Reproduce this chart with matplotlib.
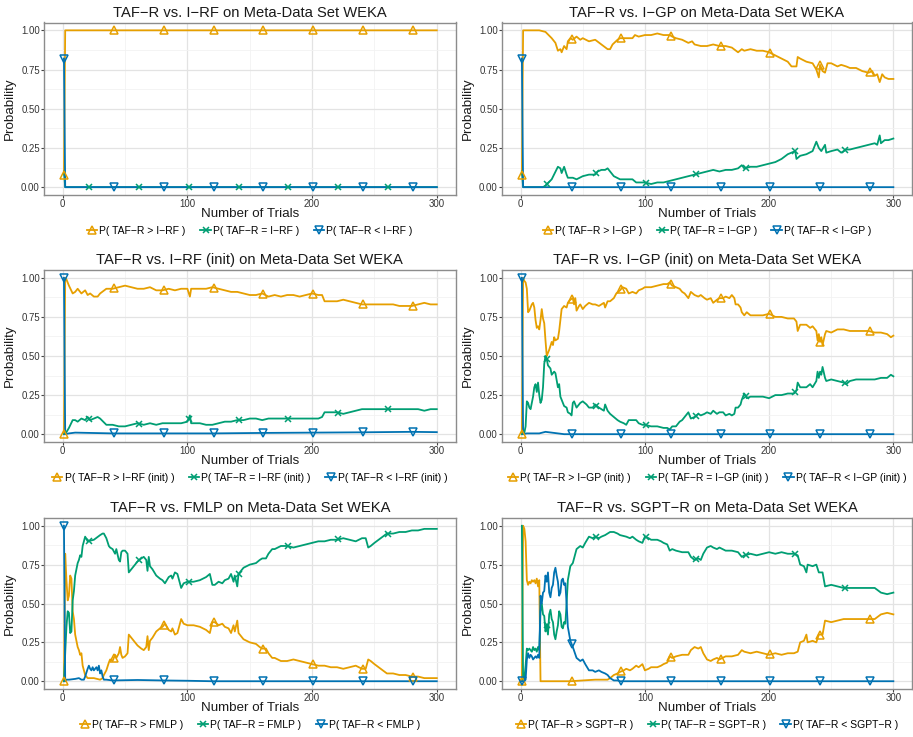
import numpy as np
import matplotlib
matplotlib.use("Agg")
import matplotlib.pyplot as plt
from matplotlib.lines import Line2D
from matplotlib.ticker import MultipleLocator

plt.rcParams['font.family'] = ['Liberation Sans', 'DejaVu Sans']

# ---------------- data ----------------
titles = ["TAF\u2212R vs. I\u2212RF on Meta-Data Set WEKA",
          "TAF\u2212R vs. I\u2212GP on Meta-Data Set WEKA",
          "TAF\u2212R vs. I\u2212RF (init) on Meta-Data Set WEKA",
          "TAF\u2212R vs. I\u2212GP (init) on Meta-Data Set WEKA",
          "TAF\u2212R vs. FMLP on Meta-Data Set WEKA",
          "TAF\u2212R vs. SGPT\u2212R on Meta-Data Set WEKA"]
competitors = ["I\u2212RF", "I\u2212GP", "I\u2212RF (init)", "I\u2212GP (init)", "FMLP", "SGPT\u2212R"]

# Panel 1: I-RF
p1_gt_x = [1, 2, 300]
p1_gt_y = [0.08, 1.0, 1.0]
p1_eq_x = [1, 2, 300]
p1_eq_y = [0.10, 0.0, 0.0]
p1_lt_x = [1, 2, 300]
p1_lt_y = [0.82, 0.0, 0.0]

# Panel 2: I-GP
p2_gt_x = [1, 2, 15, 20, 25, 28, 30, 32, 33, 35, 37, 38, 40, 42, 45, 48, 50, 55, 60, 65, 70, 72, 74, 78, 80,
           85, 90, 92, 95, 100, 105, 110, 115, 120, 122, 125, 130, 135, 138, 140, 145, 150, 155, 160, 165,
           170, 175, 178, 180, 185, 190, 195, 200, 205, 210, 215, 218, 222, 223, 225, 230, 235, 238, 240,
           241, 243, 245, 247, 250, 255, 258, 262, 265, 270, 275, 280, 283, 285, 287, 289, 291, 293, 296, 300]
p2_gt_y = [0.08, 1.0, 1.0, 0.99, 0.95, 0.92, 0.87, 0.88, 0.86, 0.90, 0.88, 0.93, 0.95, 0.94, 0.96, 0.94,
           0.95, 0.93, 0.94, 0.91, 0.88, 0.88, 0.91, 0.94, 0.95, 0.95, 0.95, 0.97, 0.96, 0.97, 0.97, 0.98,
           0.97, 0.97, 0.96, 0.95, 0.94, 0.92, 0.93, 0.91, 0.90, 0.90, 0.91, 0.90, 0.90, 0.89, 0.86, 0.88,
           0.87, 0.88, 0.87, 0.87, 0.86, 0.84, 0.82, 0.80, 0.77, 0.77, 0.83, 0.82, 0.80, 0.79, 0.75, 0.70,
           0.78, 0.74, 0.73, 0.79, 0.79, 0.77, 0.78, 0.77, 0.76, 0.76, 0.74, 0.73, 0.74, 0.71, 0.72, 0.67,
           0.72, 0.70, 0.69, 0.69]
p2_eq_x = [1, 2, 18, 20, 25, 30, 32, 33, 35, 37, 38, 42, 45, 50, 55, 60, 62, 65, 68, 70, 72, 75, 80, 85, 90,
           93, 100, 105, 110, 115, 120, 125, 130, 135, 140, 145, 150, 155, 160, 165, 170, 175, 178, 180,
           185, 190, 195, 200, 205, 210, 215, 218, 221, 222, 225, 230, 235, 238, 240, 242, 245, 246, 250,
           255, 258, 262, 265, 270, 275, 280, 285, 287, 289, 290, 293, 296, 300]
p2_eq_y = [0.10, 0.0, 0.0, 0.01, 0.05, 0.13, 0.12, 0.09, 0.13, 0.08, 0.06, 0.06, 0.05, 0.07, 0.08, 0.08,
           0.10, 0.11, 0.11, 0.12, 0.10, 0.07, 0.05, 0.05, 0.05, 0.03, 0.03, 0.02, 0.03, 0.03, 0.04, 0.05,
           0.06, 0.07, 0.08, 0.09, 0.10, 0.11, 0.10, 0.11, 0.11, 0.12, 0.14, 0.12, 0.13, 0.13, 0.14, 0.15,
           0.16, 0.18, 0.21, 0.22, 0.23, 0.18, 0.20, 0.21, 0.23, 0.29, 0.25, 0.23, 0.27, 0.22, 0.23, 0.24,
           0.22, 0.24, 0.24, 0.25, 0.26, 0.27, 0.28, 0.27, 0.33, 0.28, 0.30, 0.30, 0.31]
p2_lt_x = [1, 2, 300]
p2_lt_y = [0.82, 0.0, 0.0]

# Panel 3: I-RF (init)
p3_gt_x = [1, 2, 3, 5, 8, 10, 12, 15, 18, 20, 22, 25, 28, 30, 35, 40, 45, 50, 55, 60, 65, 70, 75, 80, 85, 90,
           95, 100, 102, 103, 105, 110, 115, 120, 125, 130, 135, 140, 145, 150, 155, 160, 165, 170, 175,
           180, 185, 190, 195, 200, 205, 208, 210, 215, 220, 225, 230, 235, 240, 245, 250, 255, 260, 265,
           270, 275, 280, 285, 290, 295, 300]
p3_gt_y = [0.0, 1.0, 0.99, 0.95, 0.90, 0.91, 0.93, 0.90, 0.92, 0.89, 0.90, 0.88, 0.88, 0.90, 0.93, 0.93,
           0.94, 0.95, 0.94, 0.93, 0.93, 0.94, 0.92, 0.92, 0.93, 0.92, 0.93, 0.93, 0.88, 0.93, 0.93, 0.93,
           0.93, 0.94, 0.93, 0.92, 0.91, 0.91, 0.90, 0.89, 0.89, 0.90, 0.88, 0.89, 0.88, 0.89, 0.89, 0.88,
           0.89, 0.90, 0.89, 0.89, 0.85, 0.85, 0.85, 0.86, 0.85, 0.84, 0.83, 0.83, 0.83, 0.83, 0.83, 0.83,
           0.82, 0.82, 0.82, 0.83, 0.84, 0.83, 0.83]
p3_eq_x = [1, 2, 5, 8, 10, 12, 15, 18, 20, 22, 25, 28, 30, 35, 40, 45, 50, 55, 60, 65, 70, 75, 80, 85, 90, 95,
           100, 102, 103, 105, 110, 115, 120, 125, 130, 135, 140, 145, 150, 155, 160, 165, 170, 175, 180,
           185, 190, 195, 200, 205, 208, 210, 215, 220, 225, 230, 235, 240, 245, 250, 255, 260, 265, 270,
           275, 280, 285, 290, 295, 300]
p3_eq_y = [0.0, 0.0, 0.04, 0.09, 0.09, 0.08, 0.10, 0.09, 0.11, 0.09, 0.10, 0.11, 0.10, 0.06, 0.06, 0.05,
           0.05, 0.06, 0.07, 0.06, 0.07, 0.06, 0.07, 0.07, 0.07, 0.07, 0.08, 0.12, 0.07, 0.07, 0.07, 0.06,
           0.06, 0.07, 0.08, 0.08, 0.09, 0.09, 0.10, 0.10, 0.09, 0.10, 0.10, 0.10, 0.10, 0.10, 0.10, 0.10,
           0.10, 0.10, 0.11, 0.14, 0.14, 0.14, 0.13, 0.14, 0.15, 0.16, 0.16, 0.16, 0.16, 0.16, 0.16, 0.16,
           0.16, 0.16, 0.16, 0.15, 0.16, 0.16]
p3_lt_x = [1, 2, 5, 10, 40, 80, 120, 160, 200, 240, 280, 300]
p3_lt_y = [1.0, 0.0, 0.005, 0.01, 0.005, 0.005, 0.005, 0.008, 0.01, 0.012, 0.015, 0.013]

# Panel 4: I-GP (init)
p4_gt_x = [1, 2, 3, 4, 5, 6, 7, 9, 10, 11, 12, 13, 14, 15, 16, 17, 18, 19, 20, 21, 22, 23, 25, 26, 27, 28,
           30, 31, 33, 35, 37, 38, 40, 42, 43, 44, 45, 47, 48, 50, 52, 55, 58, 60, 63, 65, 67, 68, 70, 72,
           75, 77, 80, 82, 85, 87, 90, 93, 95, 98, 100, 105, 110, 115, 118, 120, 122, 125, 128, 130, 132,
           135, 137, 140, 143, 145, 148, 150, 153, 155, 158, 160, 163, 165, 168, 170, 172, 173, 175, 177,
           178, 180, 182, 185, 190, 195, 200, 205, 210, 215, 220, 222, 223, 225, 230, 233, 235, 238, 239,
           240, 241, 242, 243, 245, 246, 250, 255, 260, 265, 270, 275, 280, 285, 290, 295, 298, 300]
p4_gt_y = [0.0, 1.0, 0.98, 0.97, 0.93, 0.78, 0.79, 0.83, 0.84, 0.81, 0.73, 0.68, 0.69, 0.67, 0.73, 0.80,
           0.74, 0.71, 0.60, 0.50, 0.52, 0.54, 0.59, 0.57, 0.62, 0.60, 0.61, 0.66, 0.80, 0.82, 0.81, 0.84,
           0.86, 0.87, 0.83, 0.87, 0.79, 0.82, 0.83, 0.80, 0.82, 0.84, 0.83, 0.83, 0.82, 0.83, 0.84, 0.81,
           0.85, 0.85, 0.87, 0.90, 0.92, 0.94, 0.93, 0.90, 0.91, 0.90, 0.92, 0.93, 0.94, 0.94, 0.95, 0.96,
           0.96, 0.97, 0.95, 0.94, 0.93, 0.91, 0.90, 0.87, 0.91, 0.89, 0.88, 0.89, 0.87, 0.86, 0.87, 0.84,
           0.86, 0.87, 0.87, 0.88, 0.87, 0.89, 0.87, 0.83, 0.83, 0.81, 0.78, 0.76, 0.78, 0.76, 0.76, 0.76,
           0.77, 0.75, 0.75, 0.74, 0.74, 0.72, 0.66, 0.70, 0.70, 0.68, 0.69, 0.66, 0.60, 0.64, 0.59, 0.62,
           0.57, 0.64, 0.66, 0.65, 0.67, 0.67, 0.66, 0.66, 0.66, 0.66, 0.65, 0.65, 0.64, 0.62, 0.63]
p4_eq_x = [1, 2, 3, 4, 5, 6, 7, 8, 9, 10, 11, 12, 13, 14, 15, 16, 17, 18, 19, 20, 21, 22, 23, 24, 25, 27, 28,
           30, 31, 32, 33, 35, 37, 38, 40, 41, 42, 43, 45, 47, 48, 50, 53, 55, 58, 60, 63, 65, 67, 68, 70,
           72, 75, 78, 80, 83, 85, 87, 90, 93, 95, 98, 100, 105, 110, 115, 118, 120, 122, 125, 128, 130, 133,
           135, 137, 140, 143, 145, 148, 150, 153, 155, 158, 160, 163, 165, 168, 170, 172, 173, 175, 177,
           178, 180, 182, 185, 190, 195, 200, 205, 210, 215, 220, 222, 223, 225, 230, 233, 235, 238, 239,
           240, 241, 242, 243, 245, 246, 250, 255, 260, 262, 265, 270, 275, 280, 285, 290, 295, 298, 300]
p4_eq_y = [0.0, 0.0, 0.01, 0.05, 0.21, 0.20, 0.17, 0.16, 0.20, 0.24, 0.30, 0.32, 0.27, 0.33, 0.25, 0.20,
           0.22, 0.30, 0.45, 0.50, 0.48, 0.44, 0.43, 0.42, 0.38, 0.40, 0.39, 0.30, 0.32, 0.24, 0.22, 0.18,
           0.17, 0.14, 0.13, 0.12, 0.20, 0.21, 0.17, 0.19, 0.20, 0.21, 0.19, 0.17, 0.17, 0.19, 0.17, 0.16,
           0.15, 0.19, 0.15, 0.13, 0.11, 0.09, 0.08, 0.07, 0.06, 0.09, 0.09, 0.09, 0.07, 0.06, 0.06, 0.05,
           0.05, 0.04, 0.04, 0.03, 0.05, 0.05, 0.08, 0.09, 0.12, 0.14, 0.10, 0.11, 0.13, 0.12, 0.13, 0.14,
           0.13, 0.15, 0.13, 0.14, 0.14, 0.12, 0.13, 0.12, 0.13, 0.17, 0.17, 0.19, 0.22, 0.26, 0.23, 0.24,
           0.24, 0.24, 0.23, 0.25, 0.25, 0.26, 0.26, 0.28, 0.33, 0.30, 0.30, 0.32, 0.30, 0.34, 0.40, 0.36,
           0.40, 0.38, 0.43, 0.36, 0.34, 0.35, 0.34, 0.33, 0.32, 0.34, 0.35, 0.35, 0.35, 0.35, 0.36, 0.36,
           0.38, 0.37]
p4_lt_x = [1, 2, 5, 15, 20, 25, 35, 300]
p4_lt_y = [1.0, 0.0, 0.005, 0.005, 0.015, 0.01, 0.0, 0.0]

# Panel 5: FMLP
p5_gt_x = [1, 2, 3, 4, 5, 6, 7, 8, 9, 10, 12, 13, 14, 15, 16, 18, 20, 25, 30, 32, 33, 35, 37, 38, 40, 42, 43,
           45, 46, 47, 48, 50, 52, 53, 55, 58, 60, 63, 65, 67, 68, 69, 70, 72, 75, 78, 80, 82, 85, 87, 88,
           90, 92, 95, 97, 100, 105, 110, 115, 118, 120, 122, 125, 128, 130, 133, 135, 137, 138, 140, 141,
           143, 145, 150, 155, 158, 160, 163, 165, 168, 170, 175, 180, 185, 190, 195, 200, 205, 210, 215,
           220, 225, 230, 235, 240, 243, 245, 247, 250, 255, 260, 265, 270, 275, 280, 285, 290, 295, 300]
p5_gt_y = [0.0, 0.82, 0.65, 0.52, 0.55, 0.68, 0.66, 0.45, 0.40, 0.30, 0.22, 0.20, 0.17, 0.18, 0.10, 0.04,
           0.02, 0.02, 0.01, 0.02, 0.04, 0.07, 0.12, 0.14, 0.13, 0.17, 0.15, 0.18, 0.22, 0.17, 0.15, 0.16,
           0.18, 0.30, 0.28, 0.25, 0.23, 0.21, 0.20, 0.22, 0.29, 0.20, 0.26, 0.28, 0.32, 0.34, 0.35, 0.37,
           0.33, 0.32, 0.34, 0.30, 0.31, 0.40, 0.37, 0.36, 0.36, 0.35, 0.33, 0.31, 0.38, 0.38, 0.36, 0.37,
           0.35, 0.34, 0.31, 0.36, 0.32, 0.39, 0.31, 0.29, 0.27, 0.25, 0.24, 0.22, 0.21, 0.21, 0.18, 0.15,
           0.15, 0.13, 0.13, 0.14, 0.13, 0.12, 0.11, 0.10, 0.10, 0.09, 0.09, 0.08, 0.09, 0.10, 0.08, 0.08,
           0.14, 0.13, 0.11, 0.08, 0.05, 0.05, 0.04, 0.04, 0.03, 0.03, 0.02, 0.02, 0.02]
p5_eq_x = p5_gt_x
p5_eq_y = [0.0, 0.18, 0.35, 0.45, 0.44, 0.31, 0.32, 0.52, 0.58, 0.68, 0.76, 0.78, 0.81, 0.80, 0.87, 0.93,
           0.90, 0.91, 0.94, 0.95, 0.95, 0.92, 0.87, 0.86, 0.85, 0.82, 0.85, 0.78, 0.77, 0.83, 0.84, 0.84,
           0.82, 0.70, 0.72, 0.75, 0.77, 0.79, 0.80, 0.78, 0.71, 0.80, 0.74, 0.72, 0.68, 0.66, 0.65, 0.63,
           0.67, 0.68, 0.66, 0.70, 0.69, 0.60, 0.63, 0.64, 0.64, 0.65, 0.67, 0.69, 0.62, 0.62, 0.64, 0.63,
           0.65, 0.66, 0.69, 0.64, 0.68, 0.61, 0.69, 0.71, 0.73, 0.75, 0.76, 0.78, 0.79, 0.79, 0.82, 0.85,
           0.85, 0.87, 0.87, 0.86, 0.87, 0.88, 0.89, 0.90, 0.90, 0.91, 0.91, 0.92, 0.91, 0.90, 0.92, 0.92,
           0.86, 0.87, 0.89, 0.92, 0.95, 0.95, 0.96, 0.96, 0.97, 0.97, 0.98, 0.98, 0.98]
p5_lt_x = [1, 2, 3, 5, 10, 13, 15, 17, 18, 20, 21, 22, 23, 24, 25, 26, 27, 28, 29, 30, 31, 32, 33, 35, 40,
           60, 80, 100, 120, 300]
p5_lt_y = [1.0, 0.0, 0.01, 0.01, 0.015, 0.02, 0.01, 0.01, 0.03, 0.08, 0.10, 0.08, 0.07, 0.09, 0.07, 0.08,
           0.09, 0.07, 0.10, 0.05, 0.07, 0.03, 0.01, 0.01, 0.005, 0.008, 0.005, 0.003, 0.0, 0.0]

# Panel 6: SGPT-R
p6_gt_x = [1, 2, 3, 4, 5, 6, 7, 8, 9, 10, 11, 12, 13, 14, 15, 16, 20, 40, 50, 60, 70, 72, 75, 78, 80, 83, 85,
           88, 90, 93, 95, 98, 100, 103, 105, 110, 113, 115, 118, 120, 122, 125, 130, 135, 137, 140, 143,
           145, 147, 150, 153, 155, 158, 160, 165, 170, 175, 178, 180, 185, 190, 195, 200, 205, 210, 215,
           220, 223, 225, 228, 230, 231, 235, 238, 240, 243, 245, 250, 255, 260, 265, 270, 275, 280, 285,
           290, 295, 300]
p6_gt_y = [0.0, 1.0, 0.98, 0.90, 0.65, 0.62, 0.64, 0.63, 0.65, 0.64, 0.65, 0.63, 0.66, 0.61, 0.65, 0.0,
           0.0, 0.0, 0.005, 0.01, 0.01, 0.02, 0.04, 0.05, 0.06, 0.07, 0.08, 0.07, 0.08, 0.10, 0.09, 0.11,
           0.07, 0.08, 0.09, 0.09, 0.10, 0.11, 0.12, 0.16, 0.15, 0.16, 0.17, 0.17, 0.20, 0.22, 0.21, 0.22,
           0.18, 0.14, 0.13, 0.14, 0.15, 0.14, 0.16, 0.16, 0.17, 0.20, 0.19, 0.18, 0.19, 0.18, 0.17, 0.18,
           0.17, 0.18, 0.18, 0.19, 0.25, 0.26, 0.30, 0.25, 0.26, 0.25, 0.30, 0.30, 0.39, 0.38, 0.39, 0.40,
           0.40, 0.40, 0.40, 0.40, 0.40, 0.43, 0.44, 0.43]
p6_eq_x = [1, 2, 3, 4, 5, 6, 7, 8, 9, 10, 11, 12, 13, 14, 15, 16, 17, 18, 19, 20, 21, 22, 23, 24, 25, 26, 27,
           28, 29, 30, 31, 32, 33, 34, 35, 36, 37, 38, 40, 42, 45, 48, 50, 52, 55, 58, 60, 63, 65, 68, 70,
           72, 75, 78, 80, 85, 88, 90, 93, 95, 98, 100, 103, 105, 110, 113, 115, 118, 120, 122, 125, 130,
           135, 137, 140, 143, 145, 147, 150, 153, 155, 158, 160, 165, 170, 175, 178, 180, 185, 190, 195,
           200, 205, 210, 215, 220, 223, 225, 228, 230, 231, 235, 238, 240, 243, 245, 250, 255, 260, 265,
           270, 275, 280, 285, 290, 295, 300]
p6_eq_y = [1.0, 0.0, 0.02, 0.10, 0.21, 0.20, 0.21, 0.20, 0.19, 0.22, 0.20, 0.21, 0.19, 0.22, 0.20, 0.45,
           0.50, 0.43, 0.42, 0.32, 0.36, 0.30, 0.43, 0.46, 0.40, 0.38, 0.30, 0.27, 0.32, 0.36, 0.45, 0.43,
           0.35, 0.34, 0.38, 0.37, 0.50, 0.65, 0.74, 0.76, 0.85, 0.87, 0.86, 0.89, 0.93, 0.92, 0.93, 0.92,
           0.93, 0.94, 0.95, 0.96, 0.96, 0.95, 0.94, 0.93, 0.92, 0.93, 0.91, 0.90, 0.89, 0.93, 0.92, 0.91,
           0.91, 0.90, 0.89, 0.88, 0.84, 0.85, 0.84, 0.83, 0.83, 0.80, 0.78, 0.79, 0.78, 0.82, 0.86, 0.87,
           0.86, 0.85, 0.86, 0.84, 0.84, 0.83, 0.80, 0.81, 0.82, 0.81, 0.82, 0.83, 0.82, 0.83, 0.82, 0.82,
           0.81, 0.75, 0.74, 0.70, 0.75, 0.74, 0.75, 0.70, 0.70, 0.61, 0.62, 0.61, 0.60, 0.60, 0.60, 0.60,
           0.60, 0.60, 0.57, 0.56, 0.57]
p6_lt_x = [1, 2, 3, 4, 5, 6, 7, 8, 9, 10, 11, 12, 13, 14, 15, 16, 17, 18, 19, 20, 21, 22, 23, 24, 25, 26, 27,
           28, 29, 30, 31, 32, 33, 34, 35, 36, 37, 38, 40, 42, 45, 48, 50, 52, 55, 58, 60, 63, 65, 68, 70,
           72, 75, 78, 80, 300]
p6_lt_y = [0.0, 0.0, 0.0, 0.01, 0.14, 0.18, 0.15, 0.17, 0.16, 0.14, 0.15, 0.16, 0.15, 0.17, 0.15, 0.55,
           0.50, 0.57, 0.58, 0.68, 0.64, 0.70, 0.57, 0.54, 0.60, 0.62, 0.70, 0.73, 0.68, 0.64, 0.55, 0.57,
           0.65, 0.66, 0.62, 0.63, 0.50, 0.35, 0.26, 0.22, 0.15, 0.13, 0.14, 0.11, 0.07, 0.07, 0.06, 0.07,
           0.06, 0.05, 0.04, 0.02, 0.005, 0.005, 0.0, 0.0]

panels = [
    (p1_gt_x, p1_gt_y, p1_eq_x, p1_eq_y, p1_lt_x, p1_lt_y),
    (p2_gt_x, p2_gt_y, p2_eq_x, p2_eq_y, p2_lt_x, p2_lt_y),
    (p3_gt_x, p3_gt_y, p3_eq_x, p3_eq_y, p3_lt_x, p3_lt_y),
    (p4_gt_x, p4_gt_y, p4_eq_x, p4_eq_y, p4_lt_x, p4_lt_y),
    (p5_gt_x, p5_gt_y, p5_eq_x, p5_eq_y, p5_lt_x, p5_lt_y),
    (p6_gt_x, p6_gt_y, p6_eq_x, p6_eq_y, p6_lt_x, p6_lt_y),
]

x_ticks = [0, 100, 200, 300]
y_ticks = [0.0, 0.25, 0.5, 0.75, 1.0]
y_ticklabels = ["0.00", "0.25", "0.50", "0.75", "1.00"]
marker_trials_tri = [1, 41, 81, 121, 161, 201, 241, 281]
marker_trials_x = [21, 61, 101, 141, 181, 221, 261]

# ---------------- styling ----------------
C_GT = "#E69F00"
C_EQ = "#009E73"
C_LT = "#0072B2"
W, H = 913, 737
fig = plt.figure(figsize=(W / 100, H / 100), dpi=100)

col_px = [(44, 455.5), (502, 912)]
row_px = [(22.5, 195), (270, 442), (518, 689)]

for i, (gx, gy, ex, ey, lx, ly) in enumerate(panels):
    r, c = divmod(i, 2)
    x0, x1 = col_px[c]
    y0, y1 = row_px[r]
    ax = fig.add_axes([x0 / W, 1 - y1 / H, (x1 - x0) / W, (y1 - y0) / H])
    ax.set_xlim(-15, 315)
    ax.set_ylim(-0.05, 1.05)
    ax.xaxis.set_minor_locator(MultipleLocator(50))
    ax.yaxis.set_minor_locator(MultipleLocator(0.125))
    ax.grid(True, which='major', color='#E3E3E3', lw=0.9)
    ax.grid(True, which='minor', color='#F2F2F2', lw=0.6)
    ax.set_axisbelow(True)
    for s in ax.spines.values():
        s.set_color('#8C8C8C')
        s.set_linewidth(1.0)
    ax.set_xticks(x_ticks)
    ax.set_yticks(y_ticks)
    ax.set_yticklabels(y_ticklabels)
    ax.tick_params(which='major', length=2, width=0.8, color='#444444', labelsize=6.9,
                   labelcolor='#333333', pad=1)
    ax.tick_params(which='minor', length=0)

    ax.plot(gx, gy, color=C_GT, lw=1.3, zorder=3)
    ax.plot(ex, ey, color=C_EQ, lw=1.3, zorder=3)
    ax.plot(lx, ly, color=C_LT, lw=1.3, zorder=4)
    ax.plot(marker_trials_tri, np.interp(marker_trials_tri, gx, gy), ls='none', marker='^',
            mfc='none', mec=C_GT, ms=5.5, mew=1.1, zorder=5)
    ax.plot(marker_trials_x, np.interp(marker_trials_x, ex, ey), ls='none', marker='x',
            color=C_EQ, ms=4.5, mew=1.1, zorder=5)
    ax.plot(marker_trials_tri, np.interp(marker_trials_tri, lx, ly), ls='none', marker='v',
            mfc='none', mec=C_LT, ms=5.5, mew=1.1, zorder=6)

    ax.set_title(titles[i], fontsize=10.6, pad=4, color='#1a1a1a')
    ax.set_xlabel("Number of Trials", fontsize=9.6, labelpad=-0.5, color='#1a1a1a')
    ax.set_ylabel("Probability", fontsize=9.6, labelpad=4, color='#1a1a1a')

    comp = competitors[i]
    handles = [
        Line2D([], [], color=C_GT, lw=1.3, marker='^', mfc='none', mec=C_GT, ms=5.5, mew=1.1),
        Line2D([], [], color=C_EQ, lw=1.3, marker='x', ms=4.5, mew=1.1),
        Line2D([], [], color=C_LT, lw=1.3, marker='v', mfc='none', mec=C_LT, ms=5.5, mew=1.1),
    ]
    labels = [f"P( TAF\u2212R > {comp} )", f"P( TAF\u2212R = {comp} )", f"P( TAF\u2212R < {comp} )"]
    ax.legend(handles, labels, loc='center', bbox_to_anchor=(0.5, -36 / (y1 - y0)),
              ncol=3, frameon=False, fontsize=7.5, handlelength=1.0, handletextpad=0.2,
              columnspacing=1.4, borderaxespad=0)

fig.savefig("out.png", dpi=100)
